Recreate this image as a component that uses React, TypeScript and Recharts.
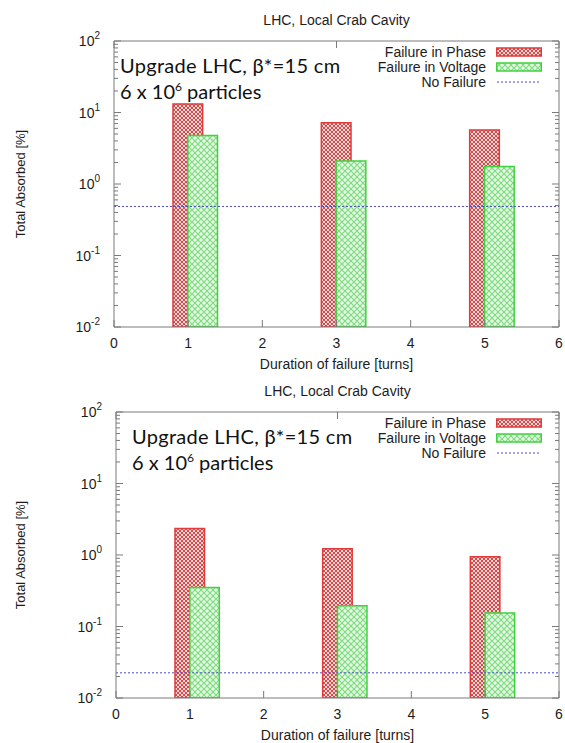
import React from 'react';
import { ComposedChart, Bar, XAxis, YAxis, ReferenceLine } from 'recharts';

// --- data ---
const turns = [1, 3, 5];
const voltageTurns = [1.2, 3.2, 5.2]; // green boxes sit 0.2 to the right
const phaseTop = [13.2, 7.2, 5.7];
const voltageTop = [4.75, 2.1, 1.75];
const noFailureTop = 0.485;
const phaseBottom = [2.35, 1.22, 0.945];
const voltageBottom = [0.35, 0.195, 0.155];
const noFailureBottom = 0.0225;

const xTicks = [0, 1, 2, 3, 4, 5, 6];
const yMajor = [0.01, 0.1, 1, 10, 100];
const yMinor = [
  0.02, 0.03, 0.04, 0.05, 0.06, 0.07, 0.08, 0.09,
  0.2, 0.3, 0.4, 0.5, 0.6, 0.7, 0.8, 0.9,
  2, 3, 4, 5, 6, 7, 8, 9,
  20, 30, 40, 50, 60, 70, 80, 90,
];
const yTicks = [...yMajor, ...yMinor];

const title = 'LHC, Local Crab Cavity';
const xTitle = 'Duration of failure [turns]';
const yTitle = 'Total Absorbed [%]';

// --- look ---
const W = 565;
const H = 371;
const PLOT_TOP = 41;
const PLOT_BOTTOM = 327;
const PLOT_RIGHT = 559;
const AXIS = '#7a7a7a';
const INK = '#1c1c1c';
const SANS = '"Liberation Sans", Arial, sans-serif';
const RED = '#e03a3a';
const GREEN = '#3fd23f';
const BLUE = '#4c4cc4';

const makeRows = (phase: number[], voltage: number[]) =>
  turns.map((t, i) => ({ x: t, xv: voltageTurns[i], phase: phase[i], voltage: voltage[i] }));

const isMajor = (v: number) => Math.abs(Math.log10(v) - Math.round(Math.log10(v))) < 1e-9;

const LeftTick = ({ x, y, payload }: any) => {
  const v = payload.value;
  const major = isMajor(v);
  return (
    <g>
      <line x1={x} x2={x + (major ? 7 : 4)} y1={y} y2={y} stroke={AXIS} />
      {major && (
        <text x={x - 14} y={y} dy={5} textAnchor="end" fontSize={14} fill={INK} fontFamily={SANS}>
          10<tspan dy={-7} fontSize={10}>{Math.round(Math.log10(v))}</tspan>
        </text>
      )}
    </g>
  );
};

const RightTick = ({ x, y, payload }: any) => (
  <line x1={x} x2={x - (isMajor(payload.value) ? 7 : 4)} y1={y} y2={y} stroke={AXIS} />
);

const BottomTick = ({ x, y, payload }: any) => (
  <g>
    <line x1={x} x2={x} y1={y} y2={y - 7} stroke={AXIS} />
    <text x={x} y={y + 21} textAnchor="middle" fontSize={14} fill={INK} fontFamily={SANS}>
      {payload.value}
    </text>
  </g>
);

const TopTick = ({ x, y }: any) => <line x1={x} x2={x} y1={y} y2={y + 7} stroke={AXIS} />;

const Swatch = ({ fill, stroke }: { fill: string; stroke: string }) => (
  <svg width={46} height={10} style={{ display: 'block' }}>
    <rect x={0.75} y={1} width={44.5} height={8} fill={fill} stroke={stroke} strokeWidth={1.5} />
  </svg>
);

const Panel = ({ top, left, annX, phase, voltage, noFailure, id }: any) => {
  const data = makeRows(phase, voltage);
  const plotW = PLOT_RIGHT - left;
  const barW = (0.4 * plotW) / 6;
  const redId = `redHatch${id}`;
  const greenId = `greenHatch${id}`;
  const legendRows = [
    { label: 'Failure in Phase', el: <Swatch fill={`url(#${redId})`} stroke={RED} /> },
    { label: 'Failure in Voltage', el: <Swatch fill={`url(#${greenId})`} stroke={GREEN} /> },
    {
      label: 'No Failure',
      el: (
        <svg width={46} height={10} style={{ display: 'block' }}>
          <line x1={1} x2={45} y1={5} y2={5} stroke={BLUE} strokeDasharray="2 2" />
        </svg>
      ),
    },
  ];

  return (
    <div style={{ position: 'absolute', top, left: 0, width: W, height: H }}>
      <ComposedChart
        width={W}
        height={H}
        data={data}
        margin={{ top: PLOT_TOP - 1, right: W - PLOT_RIGHT - 1, bottom: H - PLOT_BOTTOM - 30, left: 0 }}
      >
        <defs>
          <pattern id={redId} width={4} height={4} patternUnits="userSpaceOnUse">
            <rect width={4} height={4} fill="#f5d6d6" />
            <path d="M0,0 L4,4 M4,0 L0,4" stroke="#d84a4a" strokeWidth={1} />
          </pattern>
          <pattern id={greenId} width={6} height={6} patternUnits="userSpaceOnUse">
            <rect width={6} height={6} fill="#e6f8e6" />
            <path d="M0,0 L6,6 M6,0 L0,6" stroke="#7fdc7f" strokeWidth={1.2} />
          </pattern>
        </defs>
        <XAxis
          xAxisId="x" dataKey="x" type="number" domain={[0, 6]} ticks={xTicks} allowDataOverflow
          height={30} interval={0} tickLine={false} tickSize={0} tickMargin={0}
          axisLine={{ stroke: AXIS }} tick={<BottomTick />}
        />
        <XAxis
          xAxisId="top" orientation="top" type="number" domain={[0, 6]} ticks={xTicks} allowDataOverflow
          height={1} interval={0} tickLine={false} tickSize={0} tickMargin={0}
          axisLine={{ stroke: AXIS }} tick={<TopTick />}
        />
        <XAxis
          xAxisId="v" dataKey="xv" type="number" domain={[0, 6]} ticks={xTicks} allowDataOverflow
          height={0} hide
        />
        <YAxis
          yAxisId="y" scale="log" domain={[0.01, 100]} ticks={yTicks} allowDataOverflow
          width={left} interval={0} tickLine={false} tickSize={0} tickMargin={0}
          axisLine={{ stroke: AXIS }} tick={<LeftTick />}
        />
        <YAxis
          yAxisId="yr" orientation="right" scale="log" domain={[0.01, 100]} ticks={yTicks} allowDataOverflow
          width={1} interval={0} tickLine={false} tickSize={0} tickMargin={0}
          axisLine={{ stroke: AXIS }} tick={<RightTick />}
        />
        <Bar
          dataKey="phase" xAxisId="x" yAxisId="y" barSize={barW}
          fill={`url(#${redId})`} stroke={RED} strokeWidth={1.5} isAnimationActive={false}
        />
        <Bar
          dataKey="voltage" xAxisId="v" yAxisId="y" barSize={barW}
          fill={`url(#${greenId})`} stroke={GREEN} strokeWidth={1.5} isAnimationActive={false}
        />
        <ReferenceLine y={noFailure} xAxisId="x" yAxisId="y" stroke={BLUE} strokeDasharray="2 2" strokeWidth={1} />
      </ComposedChart>

      {/* titles */}
      <div style={{ position: 'absolute', left: left, width: plotW, top: 12, textAlign: 'center', font: `14px ${SANS}`, color: INK }}>
        {title}
      </div>
      <div style={{ position: 'absolute', left: left, width: plotW, top: 356, textAlign: 'center', font: `14px ${SANS}`, color: INK }}>
        {xTitle}
      </div>
      <div
        style={{
          position: 'absolute', left: 20, top: (PLOT_TOP + PLOT_BOTTOM) / 2, font: `13px ${SANS}`, color: INK,
          transform: 'translate(-50%, -50%) rotate(-90deg)', whiteSpace: 'nowrap',
        }}
      >
        {yTitle}
      </div>

      {/* annotation */}
      <div style={{ position: 'absolute', left: annX, top: 52, font: '20px Lato, "Open Sans", sans-serif', lineHeight: '26px', color: '#111', whiteSpace: 'nowrap' }}>
        <span style={{ letterSpacing: 0.3 }}>Upgrade LHC, β*=15 cm</span>
        <br />
        6 x 10<sup style={{ fontSize: 12, lineHeight: 0 }}>6</sup> particles
      </div>

      {/* legend */}
      <div style={{ position: 'absolute', left: 300, width: 242, top: 44, font: `14px ${SANS}`, color: INK }}>
        {legendRows.map((r) => (
          <div key={r.label} style={{ display: 'flex', alignItems: 'center', justifyContent: 'flex-end', height: 15 }}>
            <span style={{ marginRight: 10 }}>{r.label}</span>
            {r.el}
          </div>
        ))}
      </div>
    </div>
  );
};

export default function App() {
  return (
    <div style={{ position: 'absolute', top: 0, left: 0, width: W, height: 743, background: '#fff' }}>
      <Panel id="A" top={0} left={114} annX={120} phase={phaseTop} voltage={voltageTop} noFailure={noFailureTop} />
      <Panel id="B" top={371} left={116} annX={132} phase={phaseBottom} voltage={voltageBottom} noFailure={noFailureBottom} />
    </div>
  );
}
